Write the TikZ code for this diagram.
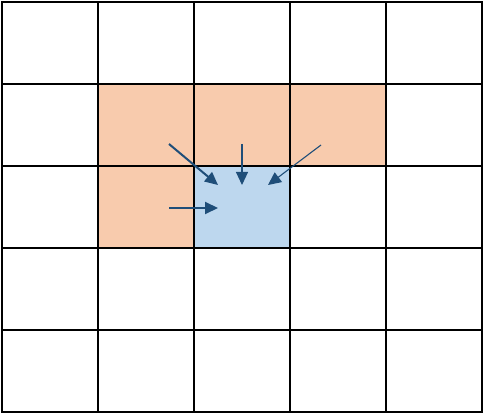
\documentclass[tikz,border=0pt]{standalone}
\usepackage{tikz}
\usetikzlibrary{arrows.meta}
\definecolor{peach}{HTML}{F8CBAD}
\definecolor{paleblue}{HTML}{BDD7EE}
\definecolor{arrowblue}{HTML}{1F4E79}

\begin{document}
\begin{tikzpicture}[x=1pt,y=-1pt,
    cell/.style={draw,line width=1.6pt,minimum width=96pt,minimum height=82pt,inner sep=0,outer sep=0},
    nbr_cell/.style={cell,fill=peach},
    cur_cell/.style={cell,fill=paleblue},
    flow/.style={draw=arrowblue,line width=2pt,-{Triangle[length=13pt,width=12pt]}}]
    \useasboundingbox (0,0) rectangle (485,417);
    % grid
    \foreach \r in {1,...,5}
        \foreach \c in {1,...,5}
            \node[cell] (c\r\c) at ({2+96*(\c-0.5)},{2+82*(\r-0.5)}) {};
    \foreach \r/\c in {2/2,2/3,2/4,3/2}
        \node[nbr_cell] (n\r\c) at (c\r\c) {};
    \node[cur_cell] (cur) at (c33) {};
    % arrows
    \coordinate (s1) at (169,144);
    \coordinate (t1) at (218,185);
    \coordinate (s2) at (242,144);
    \coordinate (t2) at (242,185);
    \coordinate (s3) at (321,145);
    \coordinate (t3) at (268,185);
    \coordinate (s4) at (169,208);
    \coordinate (t4) at (218,208);
    \draw[flow] (s1) -- (t1);
    \draw[flow,line width=1.1pt] (s2) -- (t2);
    \draw[flow,line width=1.1pt] (s3) -- (t3);
    \draw[flow] (s4) -- (t4);
\end{tikzpicture}
\end{document}
